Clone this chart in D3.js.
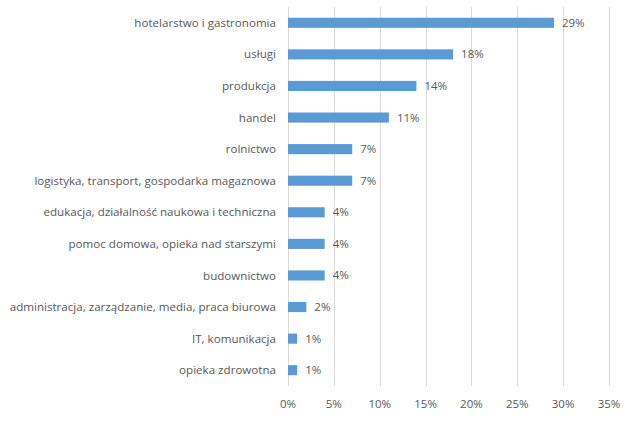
<!DOCTYPE html>
<html>
<head>
<meta charset="utf-8">
<script src="https://cdn.jsdelivr.net/npm/d3@7"></script>
<style>
  body { margin: 0; background: #fff; }
  text { font-family: "Open Sans", "Liberation Sans", sans-serif; fill: #595959; }
</style>
</head>
<body>
<svg id="chart" width="640" height="431"></svg>
<script>
// categories, top to bottom
const categories = [
  "hotelarstwo i gastronomia",
  "usługi",
  "produkcja",
  "handel",
  "rolnictwo",
  "logistyka, transport, gospodarka magaznowa",
  "edukacja, działalność naukowa i techniczna",
  "pomoc domowa, opieka nad starszymi",
  "budownictwo",
  "administracja, zarządzanie, media, praca biurowa",
  "IT, komunikacja",
  "opieka zdrowotna"
];
const values = [29, 18, 14, 11, 7, 7, 4, 4, 4, 2, 1, 1];
const ticks = [0, 5, 10, 15, 20, 25, 30, 35];

const svg = d3.select("#chart"),
      margin = { top: 7, right: 31, bottom: 45, left: 288 },
      width = +svg.attr("width") - margin.left - margin.right,
      height = +svg.attr("height") - margin.top - margin.bottom,
      chart = svg.append("g").attr("transform", `translate(${margin.left},${margin.top})`);

const x = d3.scaleLinear().domain([0, 35]).range([0, width]);
const y = d3.scaleBand().domain(categories).range([0, height])
  .paddingInner(0.68).paddingOuter(0.34);

// gridlines
chart.append("g")
  .selectAll("line")
  .data(ticks)
  .join("line")
  .attr("x1", d => Math.round(x(d)) + 0.5)
  .attr("x2", d => Math.round(x(d)) + 0.5)
  .attr("y1", 0)
  .attr("y2", height)
  .attr("stroke", "#d9d9d9")
  .attr("stroke-width", 1);

// x tick labels
chart.append("g")
  .selectAll("text")
  .data(ticks)
  .join("text")
  .attr("x", d => x(d))
  .attr("y", height + 18)
  .attr("dy", "0.35em")
  .attr("text-anchor", "middle")
  .attr("font-size", "11.5px")
  .text(d => d + "%");

// bars
chart.selectAll(".bar")
  .data(values)
  .join("rect")
  .attr("class", "bar")
  .attr("x", 0)
  .attr("y", (d, i) => y(categories[i]))
  .attr("width", d => x(d))
  .attr("height", y.bandwidth())
  .attr("fill", "#5b9bd5");

// value labels
chart.selectAll(".val")
  .data(values)
  .join("text")
  .attr("class", "val")
  .attr("x", d => x(d) + 8)
  .attr("y", (d, i) => y(categories[i]) + y.bandwidth() / 2)
  .attr("dy", "0.35em")
  .attr("font-size", "11.5px")
  .text(d => d + "%");

// category labels
chart.selectAll(".cat")
  .data(categories)
  .join("text")
  .attr("class", "cat")
  .attr("x", -12)
  .attr("y", d => y(d) + y.bandwidth() / 2)
  .attr("dy", "0.35em")
  .attr("text-anchor", "end")
  .attr("font-size", "11.6px")
  .text(d => d);
</script>
</body>
</html>
